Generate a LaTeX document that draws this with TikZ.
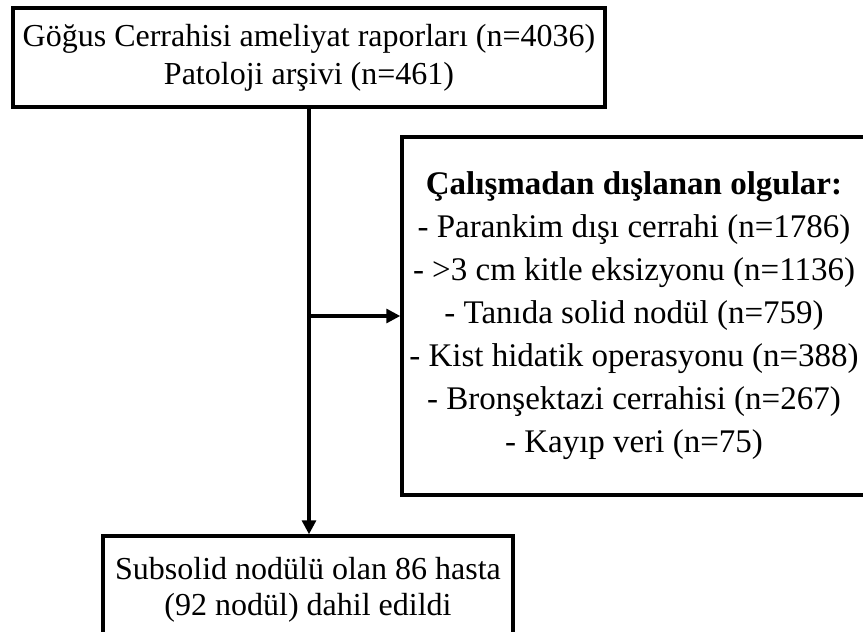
\documentclass[tikz,border=0pt]{standalone}
\usepackage{fontspec}
\setmainfont{Liberation Serif}
\usepackage{tikz}
\usetikzlibrary{arrows.meta, positioning}

\begin{document}
\begin{tikzpicture}[x=1pt,y=-1pt,>={Triangle[length=14pt,width=14pt]},box/.style={rectangle,draw,line width=3.5pt,align=center,inner sep=0pt,font=\fontsize{32}{38}\selectfont},flow/.style={->,line width=3.2pt}]
\useasboundingbox (0,0) rectangle (863,632);
\clip (0,0) rectangle (863,632);
\node[box,minimum width=592pt,minimum height=99pt] (source) at (309,57.5) {Göğus Cerrahisi ameliyat raporları (n=4036)\\Patoloji arşivi (n=461)};
\node[box,minimum width=464pt,minimum height=358pt,font=\fontsize{33}{43}\selectfont] (excluded) at (634,316) {\textbf{Çalışmadan dışlanan olgular:}\\- Parankim dışı cerrahi (n=1786)\\- >3 cm kitle eksizyonu (n=1136)\\- Tanıda solid nodül (n=759)\\- Kist hidatik operasyonu (n=388)\\- Bronşektazi cerrahisi (n=267)\\- Kayıp veri (n=75)};
\node[box,minimum width=410pt,minimum height=107pt,font=\fontsize{32}{36}\selectfont] (included) at (308,589.5) {Subsolid nodülü olan 86 hasta\\(92 nodül) dahil edildi};
\coordinate (split) at (source.south |- excluded.west);
\draw[flow] (source.south) -- (source.south |- included.north);
\draw[flow] (split) -- (excluded.west);
\end{tikzpicture}
\end{document}
